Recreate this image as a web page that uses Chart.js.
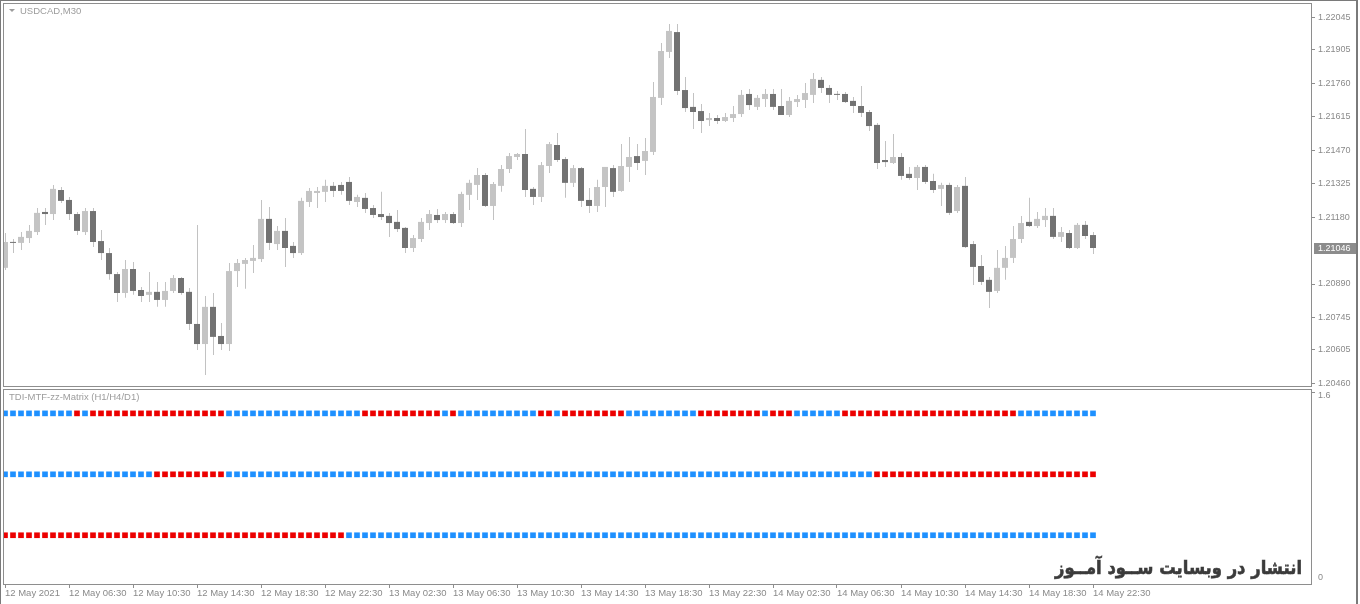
<!DOCTYPE html>
<html>
<head>
<meta charset="utf-8">
<script src="https://cdn.jsdelivr.net/npm/chart.js@4.4.1/dist/chart.umd.min.js"></script>
<style>
  html, body { margin: 0; padding: 0; background: #fff; }
  #wrap { position: relative; width: 1360px; height: 604px; overflow: hidden; }
  #price { position: absolute; left: 0; top: 0; }
  #matrix { position: absolute; left: 0; top: 388px; }
  #frame { position: absolute; left: 0; top: 0; width: 1358px; height: 604px; box-sizing: border-box;
           border-left: 1px solid #7a7a7a; border-top: 1px solid #7a7a7a; border-right: 2px solid #7a7a7a; pointer-events: none; }
</style>
</head>
<body>
<div id="wrap">
  <canvas id="price" width="1360" height="388"></canvas>
  <canvas id="matrix" width="1360" height="216"></canvas>
  <div id="frame"></div>
</div>
<script>
// USDCAD M30, 12 May 02:30 .. 14 May 22:30 (137 bars)
var opens = [
    1.20960, 1.21072, 1.21068, 1.21089, 1.21115, 1.21202, 1.21193, 1.21297, 1.21254, 1.21193,
    1.21115, 1.21206, 1.21076, 1.21024, 1.20933, 1.20851, 1.20955, 1.20864, 1.20843, 1.20856,
    1.20821, 1.20860, 1.20916, 1.20856, 1.20717, 1.20630, 1.20791, 1.20665, 1.20630, 1.20946,
    1.20977, 1.20990, 1.20998, 1.21172, 1.21063, 1.21120, 1.21055, 1.21024, 1.21245, 1.21284,
    1.21289, 1.21315, 1.21319, 1.21332, 1.21245, 1.21263, 1.21219, 1.21193, 1.21185, 1.21159,
    1.21133, 1.21046, 1.21085, 1.21154, 1.21189, 1.21167, 1.21193, 1.21154, 1.21276, 1.21319,
    1.21362, 1.21228, 1.21315, 1.21388, 1.21440, 1.21453, 1.21302, 1.21267, 1.21401, 1.21492,
    1.21431, 1.21328, 1.21392, 1.21254, 1.21228, 1.21310, 1.21392, 1.21293, 1.21397, 1.21444,
    1.21423, 1.21462, 1.21696, 1.21895, 1.21981, 1.21730, 1.21657, 1.21639, 1.21600, 1.21609,
    1.21596, 1.21609, 1.21626, 1.21713, 1.21657, 1.21691, 1.21713, 1.21661, 1.21622, 1.21678,
    1.21687, 1.21709, 1.21774, 1.21739, 1.21713, 1.21713, 1.21683, 1.21661, 1.21635, 1.21579,
    1.21427, 1.21414, 1.21440, 1.21367, 1.21349, 1.21397, 1.21336, 1.21302, 1.21319, 1.21206,
    1.21315, 1.21063, 1.20968, 1.20908, 1.20860, 1.20960, 1.21003, 1.21085, 1.21159, 1.21141,
    1.21167, 1.21185, 1.21094, 1.21111, 1.21046, 1.21146, 1.21102
];
var highs = [
    1.21111, 1.21085, 1.21115, 1.21146, 1.21219, 1.21219, 1.21319, 1.21310, 1.21267, 1.21202,
    1.21219, 1.21219, 1.21124, 1.21046, 1.20942, 1.20994, 1.20985, 1.20877, 1.20942, 1.20899,
    1.20899, 1.20929, 1.20920, 1.20873, 1.21146, 1.20838, 1.20851, 1.20721, 1.20981, 1.20998,
    1.21003, 1.21059, 1.21254, 1.21224, 1.21141, 1.21176, 1.21072, 1.21263, 1.21306, 1.21310,
    1.21341, 1.21332, 1.21332, 1.21353, 1.21276, 1.21284, 1.21232, 1.21289, 1.21198, 1.21211,
    1.21137, 1.21102, 1.21176, 1.21211, 1.21215, 1.21202, 1.21202, 1.21289, 1.21341, 1.21392,
    1.21371, 1.21332, 1.21405, 1.21457, 1.21457, 1.21561, 1.21310, 1.21418, 1.21505, 1.21544,
    1.21440, 1.21405, 1.21397, 1.21306, 1.21341, 1.21397, 1.21405, 1.21496, 1.21527, 1.21496,
    1.21522, 1.21765, 1.21934, 1.22016, 1.22016, 1.21787, 1.21717, 1.21670, 1.21631, 1.21622,
    1.21631, 1.21661, 1.21730, 1.21735, 1.21709, 1.21735, 1.21735, 1.21735, 1.21700, 1.21709,
    1.21761, 1.21804, 1.21787, 1.21752, 1.21726, 1.21722, 1.21700, 1.21748, 1.21644, 1.21587,
    1.21509, 1.21540, 1.21457, 1.21397, 1.21405, 1.21405, 1.21367, 1.21328, 1.21328, 1.21319,
    1.21353, 1.21076, 1.21016, 1.20920, 1.21037, 1.21055, 1.21141, 1.21185, 1.21263, 1.21202,
    1.21219, 1.21219, 1.21137, 1.21124, 1.21154, 1.21163, 1.21115
];
var lows = [
    1.20951, 1.21024, 1.21037, 1.21068, 1.21102, 1.21146, 1.21167, 1.21241, 1.21167, 1.21102,
    1.21102, 1.21050, 1.20994, 1.20908, 1.20812, 1.20830, 1.20843, 1.20812, 1.20812, 1.20791,
    1.20791, 1.20851, 1.20843, 1.20691, 1.20604, 1.20496, 1.20583, 1.20604, 1.20600, 1.20877,
    1.20869, 1.20938, 1.20985, 1.21037, 1.21037, 1.20964, 1.21003, 1.21016, 1.21224, 1.21219,
    1.21245, 1.21267, 1.21276, 1.21232, 1.21224, 1.21198, 1.21176, 1.21167, 1.21094, 1.21115,
    1.21024, 1.21029, 1.21072, 1.21124, 1.21154, 1.21154, 1.21150, 1.21137, 1.21211, 1.21254,
    1.21224, 1.21167, 1.21289, 1.21371, 1.21427, 1.21267, 1.21232, 1.21245, 1.21371, 1.21418,
    1.21263, 1.21310, 1.21224, 1.21198, 1.21202, 1.21224, 1.21267, 1.21289, 1.21332, 1.21384,
    1.21362, 1.21449, 1.21665, 1.21869, 1.21709, 1.21635, 1.21561, 1.21544, 1.21574, 1.21583,
    1.21592, 1.21592, 1.21613, 1.21644, 1.21644, 1.21657, 1.21644, 1.21622, 1.21613, 1.21657,
    1.21652, 1.21674, 1.21717, 1.21674, 1.21687, 1.21674, 1.21631, 1.21613, 1.21553, 1.21388,
    1.21397, 1.21410, 1.21341, 1.21341, 1.21297, 1.21323, 1.21284, 1.21228, 1.21189, 1.21198,
    1.21046, 1.20886, 1.20886, 1.20786, 1.20851, 1.20908, 1.20981, 1.21068, 1.21137, 1.21133,
    1.21137, 1.21085, 1.21072, 1.21042, 1.21042, 1.21085, 1.21020
];
var closes = [
    1.21072, 1.21068, 1.21094, 1.21120, 1.21198, 1.21193, 1.21302, 1.21250, 1.21193, 1.21120,
    1.21206, 1.21072, 1.21024, 1.20933, 1.20851, 1.20955, 1.20860, 1.20838, 1.20856, 1.20821,
    1.20860, 1.20916, 1.20851, 1.20717, 1.20630, 1.20791, 1.20661, 1.20630, 1.20946, 1.20981,
    1.20994, 1.21003, 1.21172, 1.21068, 1.21120, 1.21046, 1.21024, 1.21250, 1.21293, 1.21293,
    1.21315, 1.21293, 1.21293, 1.21250, 1.21267, 1.21215, 1.21189, 1.21180, 1.21154, 1.21128,
    1.21046, 1.21089, 1.21159, 1.21193, 1.21167, 1.21193, 1.21154, 1.21280, 1.21328, 1.21362,
    1.21228, 1.21323, 1.21388, 1.21444, 1.21453, 1.21297, 1.21267, 1.21405, 1.21496, 1.21427,
    1.21328, 1.21392, 1.21250, 1.21228, 1.21310, 1.21397, 1.21289, 1.21401, 1.21440, 1.21414,
    1.21466, 1.21700, 1.21899, 1.21986, 1.21726, 1.21652, 1.21635, 1.21596, 1.21609, 1.21596,
    1.21613, 1.21626, 1.21709, 1.21665, 1.21696, 1.21713, 1.21657, 1.21622, 1.21683, 1.21691,
    1.21717, 1.21778, 1.21739, 1.21709, 1.21709, 1.21678, 1.21661, 1.21631, 1.21574, 1.21414,
    1.21418, 1.21440, 1.21358, 1.21349, 1.21397, 1.21332, 1.21297, 1.21319, 1.21198, 1.21310,
    1.21050, 1.20964, 1.20899, 1.20856, 1.20960, 1.21003, 1.21085, 1.21154, 1.21141, 1.21172,
    1.21185, 1.21094, 1.21115, 1.21046, 1.21146, 1.21098, 1.21046
];

// Preisachse (rechts) und Zeitachse (unten)
var priceTicks = [1.22045, 1.21905, 1.21760, 1.21615, 1.21470, 1.21325, 1.21180, 1.20890, 1.20745, 1.20605, 1.20460];
var timeTickBars = [0, 8, 16, 24, 32, 40, 48, 56, 64, 72, 80, 88, 96, 104, 112, 120, 128, 136];
var timeLabels = ["12 May 2021", "12 May 06:30", "12 May 10:30", "12 May 14:30", "12 May 18:30", "12 May 22:30",
    "13 May 02:30", "13 May 06:30", "13 May 10:30", "13 May 14:30", "13 May 18:30", "13 May 22:30",
    "14 May 02:30", "14 May 06:30", "14 May 10:30", "14 May 14:30", "14 May 18:30", "14 May 22:30"];

// TDI-MTF-zz-Matrix: Zustand je Balken als Lauflaengen (Anzahl Quadrate) fuer H1 / H4 / D1
var h1Runs = [["up", 9], ["dn", 1], ["up", 1], ["dn", 17], ["up", 17], ["dn", 10], ["up", 1], ["dn", 1], ["up", 10],
    ["dn", 2], ["up", 1], ["dn", 8], ["up", 9], ["dn", 8], ["up", 1], ["dn", 3], ["up", 6], ["dn", 22], ["up", 10]];
var h4Runs = [["up", 19], ["dn", 9], ["up", 81], ["dn", 28]];
var d1Runs = [["dn", 43], ["up", 94]];
var matrixLevels = [1.4, 0.9, 0.4]; // H1, H4, D1
var matrixAxis = [0, 1.6];

var symbolTitle = "USDCAD,M30",
    indicatorTitle = "TDI-MTF-zz-Matrix (H1/H4/D1)",
    watermark = "انتشار در وبسایت ســود آمــوز";

var BULL = "#c4c4c4", BEAR = "#727272", WICK = "#c2c2c2",
    BLUE = "#1e90ff", RED = "#ec0000",
    FRAME = "#8e8e8e", TEXT = "#8a8a8a",
    X_MIN = -0.125, X_MAX = 163.25, PIX_SHIFT = 0.0625;

Chart.defaults.font.family = "'Liberation Sans', Arial, sans-serif";

function expandRuns(runs) {
    var out = [];
    runs.forEach(function (r) {
        for (let i = 0; i < r[1]; i++) {
            out.push(r[0]);
        }
    });
    return out;
}

function fixWidth(w) {
    return function (scale) {
        scale.width = w;
        scale.paddingTop = 0;
        scale.paddingBottom = 0;
    };
}

// Rahmen, Titel und Kursmarke des Hauptfensters
var priceDecor = {
    id: "priceDecor",
    afterDraw(chart) {
        var ctx = chart.ctx, a = chart.chartArea, ys = chart.scales.y,
            last = closes[closes.length - 1],
            py = Math.round(ys.getPixelForValue(last));
        ctx.save();
        ctx.strokeStyle = FRAME;
        ctx.lineWidth = 1;
        ctx.strokeRect(a.left - 0.5, a.top - 0.5, a.right - a.left + 1, a.bottom - a.top + 1);

        ctx.fillStyle = "#9c9c9c";
        ctx.beginPath();
        ctx.moveTo(9, 9); ctx.lineTo(15, 9); ctx.lineTo(12, 12); ctx.closePath();
        ctx.fill();
        ctx.font = "9.5px 'Liberation Sans'";
        ctx.textBaseline = "middle";
        ctx.fillText(symbolTitle, 20, 11);

        ctx.fillStyle = "#8c8c8c";
        ctx.fillRect(a.right + 3, py - 5, 42, 11);
        ctx.fillStyle = "#ffffff";
        ctx.font = "9px 'Liberation Sans'";
        ctx.fillText(last.toFixed(5), a.right + 7, py + 0.5);
        ctx.restore();
    }
};

// Rahmen, Titel, Skalenwerte und Schriftzug des Indikatorfensters
var matrixDecor = {
    id: "matrixDecor",
    afterDraw(chart) {
        var ctx = chart.ctx, a = chart.chartArea, ys = chart.scales.y, size, w, base;
        ctx.save();
        ctx.strokeStyle = FRAME;
        ctx.lineWidth = 1;
        ctx.strokeRect(a.left - 0.5, a.top + 0.5, a.right - a.left + 1, a.bottom - a.top);
        ctx.beginPath();
        ctx.moveTo(a.right, a.top + 3.5); ctx.lineTo(a.right + 4, a.top + 3.5);
        ctx.stroke();

        ctx.fillStyle = "#9c9c9c";
        ctx.font = "9.5px 'Liberation Sans'";
        ctx.textBaseline = "middle";
        ctx.fillText(indicatorTitle, 9, 9);

        ctx.fillStyle = TEXT;
        ctx.font = "9px 'Liberation Sans'";
        ctx.fillText(matrixAxis[1].toString(), a.right + 7, ys.getPixelForValue(matrixAxis[1]) + 7);
        ctx.fillText(matrixAxis[0].toString(), a.right + 7, ys.getPixelForValue(matrixAxis[0]) - 6);

        // Schriftzug: auf die Breite des Originals eingepasst, leicht gestreckt
        size = 20;
        ctx.font = "bold " + size + "px 'DejaVu Sans'";
        w = ctx.measureText(watermark).width;
        size = size * 247 / w;
        ctx.font = "bold " + size.toFixed(2) + "px 'DejaVu Sans'";
        base = a.bottom - 10;
        ctx.translate(1302, base);
        ctx.scale(1, 1.15);
        ctx.fillStyle = "#3b3b3b";
        ctx.strokeStyle = "#3b3b3b";
        ctx.lineWidth = 0.5;
        ctx.textAlign = "right";
        ctx.textBaseline = "alphabetic";
        ctx.fillText(watermark, 0, 0);
        ctx.strokeText(watermark, 0, 0);
        ctx.restore();
    }
};

function initPriceChart() {
    var bodies = opens.map(function (o, i) { return {x: i, y: [o, closes[i]]}; }),
        wicks = opens.map(function (o, i) { return {x: i, y: [lows[i], highs[i]]}; }),
        colors = opens.map(function (o, i) { return closes[i] >= o ? BULL : BEAR; });

    new Chart(document.getElementById("price"), {
        type: "bar",
        data: {
            datasets: [
                {data: bodies, xAxisID: "x", backgroundColor: colors, barThickness: 6, minBarLength: 1,
                    grouped: false, inflateAmount: 0, borderWidth: 0, order: 0},
                {data: wicks, xAxisID: "xw", backgroundColor: WICK, barThickness: 1,
                    grouped: false, inflateAmount: 0, borderWidth: 0, order: 1}
            ]
        },
        options: {
            responsive: false,
            animation: false,
            layout: {autoPadding: false, padding: {left: 4, top: 4, right: 0, bottom: 2}},
            plugins: {legend: {display: false}, tooltip: {enabled: false}},
            scales: {
                x: {type: "linear", display: false, offset: false, min: X_MIN, max: X_MAX},
                xw: {type: "linear", display: false, offset: false, min: X_MIN - PIX_SHIFT, max: X_MAX - PIX_SHIFT},
                y: {
                    position: "right",
                    beginAtZero: false,
                    min: 1.204483,
                    max: 1.221026,
                    afterBuildTicks: function (scale) {
                        scale.ticks = priceTicks.map(function (v) { return {value: v}; });
                    },
                    afterFit: fixWidth(49),
                    border: {display: false},
                    grid: {drawOnChartArea: false, tickLength: 4, color: FRAME},
                    ticks: {
                        color: TEXT, padding: 3, font: {size: 9},
                        callback: function (v) { return v.toFixed(5); }
                    }
                }
            }
        },
        plugins: [priceDecor]
    });
}

function initMatrixChart() {
    var rows = [expandRuns(h1Runs), expandRuns(h4Runs), expandRuns(d1Runs)],
        datasets = rows.map(function (row, r) {
            return {
                data: row.map(function (s, i) { return {x: i, y: matrixLevels[r]}; }),
                pointStyle: "rect",
                pointRadius: 4,
                pointBorderWidth: 0,
                pointBackgroundColor: row.map(function (s) { return s === "up" ? BLUE : RED; })
            };
        });

    new Chart(document.getElementById("matrix"), {
        type: "scatter",
        data: {datasets: datasets},
        options: {
            responsive: false,
            animation: false,
            layout: {autoPadding: false, padding: {left: 4, top: 1, right: 49, bottom: 0}},
            plugins: {legend: {display: false}, tooltip: {enabled: false}},
            scales: {
                x: {
                    type: "linear", offset: false, min: X_MIN, max: X_MAX,
                    afterBuildTicks: function (scale) {
                        scale.ticks = timeTickBars.map(function (v) { return {value: v}; });
                    },
                    afterFit: function (scale) {
                        scale.height = 20;
                        scale.paddingLeft = 0;
                        scale.paddingRight = 0;
                    },
                    border: {display: false},
                    grid: {drawOnChartArea: false, tickLength: 4, color: FRAME},
                    ticks: {
                        color: TEXT, padding: 0, align: "start", autoSkip: false, maxRotation: 0,
                        font: {size: 9.5},
                        callback: function (v, i) { return timeLabels[i]; }
                    }
                },
                y: {display: false, min: matrixAxis[0], max: matrixAxis[1]}
            }
        },
        plugins: [matrixDecor]
    });
}

initPriceChart();
initMatrixChart();
</script>
</body>
</html>
